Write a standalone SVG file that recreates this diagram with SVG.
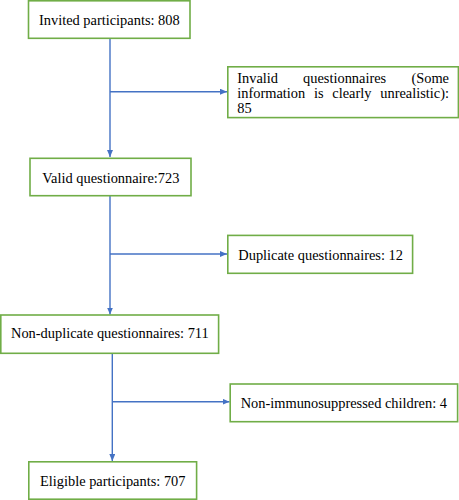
<svg xmlns="http://www.w3.org/2000/svg" width="459" height="500" viewBox="0 0 459 500">
<style>
.box{fill:#fff;stroke:#70ad47;stroke-width:1.6}
.t{font-family:"Liberation Serif","Times New Roman",serif;font-size:14.4px;fill:#000}
.c{fill:none;stroke:#4472c4;stroke-width:1.4}
</style>
<defs>
<marker id="ah" markerWidth="7" markerHeight="6" refX="7" refY="3" orient="auto" markerUnits="userSpaceOnUse">
<path d="M0,0 L7,3 L0,6 Z" fill="#4472c4"/>
</marker>
</defs>
<rect width="459" height="500" fill="#fff"/>
<g id="connectors">
<path class="c" d="M110,38.5 V157" marker-end="url(#ah)"/>
<path class="c" d="M110,91.7 H227" marker-end="url(#ah)"/>
<path class="c" d="M110,196 V314.5" marker-end="url(#ah)"/>
<path class="c" d="M110,254 H227" marker-end="url(#ah)"/>
<path class="c" d="M112.3,353.5 V461" marker-end="url(#ah)"/>
<path class="c" d="M112.3,401.7 H229.5" marker-end="url(#ah)"/>
</g>
<g id="n1">
<rect class="box" x="28.5" y="0.8" width="161.5" height="37.5"/>
<text class="t" x="39" y="25">Invited participants: 808</text>
</g>
<g id="n2">
<rect class="box" x="227.8" y="66.8" width="230.6" height="50.8"/>
<text class="t" x="237.3" y="83.3">Invalid</text>
<text class="t" x="303.1" y="83.3">questionnaires</text>
<text class="t" x="449" y="83.3" text-anchor="end">(Some</text>
<text class="t" x="237.3" y="98.2">information</text>
<text class="t" x="314" y="98.2">is</text>
<text class="t" x="332.3" y="98.2">clearly</text>
<text class="t" x="449" y="98.2" text-anchor="end">unrealistic):</text>
<text class="t" x="237.3" y="112.7">85</text>
</g>
<g id="n3">
<rect class="box" x="30" y="158.3" width="161" height="37.4"/>
<text class="t" x="42.3" y="182.7">Valid questionnaire:723</text>
</g>
<g id="n4">
<rect class="box" x="227.8" y="235.4" width="184.8" height="37.9"/>
<text class="t" x="238.3" y="260">Duplicate questionnaires: 12</text>
</g>
<g id="n5">
<rect class="box" x="0.8" y="315" width="217.8" height="38.3"/>
<text class="t" x="11" y="338.3">Non-duplicate questionnaires: 711</text>
</g>
<g id="n6">
<rect class="box" x="230.2" y="384" width="227.4" height="37.7"/>
<text class="t" x="240.7" y="408.3">Non-immunosuppressed children: 4</text>
</g>
<g id="n7">
<rect class="box" x="28.8" y="461.8" width="167.8" height="37.4"/>
<text class="t" x="40" y="486">Eligible participants: 707</text>
</g>
</svg>
